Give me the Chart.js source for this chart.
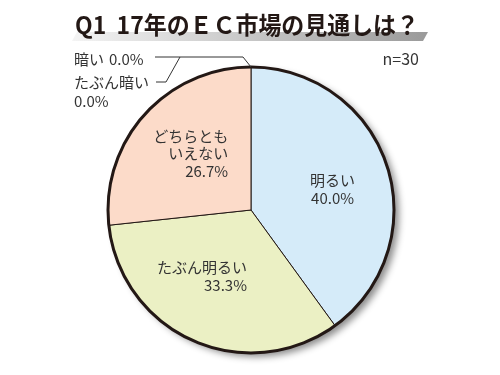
<!DOCTYPE html>
<html>
<head>
<meta charset="utf-8">
<script src="https://cdn.jsdelivr.net/npm/chart.js@4/dist/chart.umd.min.js"></script>
<style>
  body { margin: 0; background: #fff; }
  #wrap { width: 500px; height: 375px; }
</style>
</head>
<body>
<div id="wrap"><canvas id="pieChart" width="500" height="375"></canvas></div>
<script>
// data
const categories = ['明るい', 'たぶん明るい', 'どちらともいえない', 'たぶん暗い', '暗い'];
const labelLines = [['明るい'], ['たぶん明るい'], ['どちらとも', 'いえない'], ['たぶん暗い'], ['暗い']];
const percents = [40.0, 33.3, 26.7, 0.0, 0.0];
const titleText = 'Q1  17年のＥＣ市場の見通しは？';
const sampleNote = 'n=30';

const sliceColors = ['#d5ebf9', '#ebf0c4', '#fcdbc9', '#ffffff', '#ffffff'];
const FONT = '"Noto Sans CJK JP", "Noto Sans", sans-serif';
const INK = '#231815';

// label placement inside slices: radial factor + nudge
const inside = [
  { rf: 0.6, dx: 0, dy: 6, align: 'center' },
  { rf: 0.5, dx: 25, dy: 1, align: 'right' },
  { rf: 0.6, dx: 41, dy: 1, align: 'right' }
];

const fmt = v => v.toFixed(1) + '%';

const decor = {
  id: 'decor',
  beforeDatasetsDraw(chart) {
    const arc = chart.getDatasetMeta(0).data[0];
    const ctx = chart.ctx;
    ctx.save();
    ctx.shadowColor = 'rgba(0,0,0,0.45)';
    ctx.shadowBlur = 7;
    ctx.shadowOffsetX = 5;
    ctx.shadowOffsetY = 4;
    ctx.beginPath();
    ctx.arc(arc.x, arc.y, arc.outerRadius, 0, Math.PI * 2);
    ctx.fillStyle = '#fff';
    ctx.fill();
    ctx.restore();
  },
  afterDatasetsDraw(chart) {
    const arcs = chart.getDatasetMeta(0).data;
    const ctx = chart.ctx;
    const a0 = arcs[0];
    ctx.save();
    // outer rim
    ctx.beginPath();
    ctx.arc(a0.x, a0.y, a0.outerRadius, 0, Math.PI * 2);
    ctx.lineWidth = 3;
    ctx.strokeStyle = INK;
    ctx.stroke();

    ctx.fillStyle = '#333';
    ctx.font = '15px ' + FONT;
    ctx.textBaseline = 'middle';

    // labels inside slices
    inside.forEach((p, i) => {
      const a = arcs[i];
      const mid = (a.startAngle + a.endAngle) / 2;
      const cx = a.x + Math.cos(mid) * a.outerRadius * p.rf + p.dx;
      const cy = a.y + Math.sin(mid) * a.outerRadius * p.rf + p.dy;
      const lines = labelLines[i].concat([fmt(percents[i])]);
      const lh = 17.5;
      const top = cy - (lines.length - 1) * lh / 2;
      ctx.textAlign = p.align;
      lines.forEach((t, k) => ctx.fillText(t, cx, top + k * lh));
    });

    // leader labels for the zero slices
    const z = arcs[4];
    const px = z.x + Math.cos(z.startAngle) * z.outerRadius;
    const py = z.y + Math.sin(z.startAngle) * z.outerRadius;
    ctx.lineWidth = 1;
    ctx.strokeStyle = '#333';
    ctx.beginPath();
    ctx.moveTo(px, py);
    ctx.lineTo(px - 8, py - 10);
    ctx.lineTo(155, py - 10);
    ctx.moveTo(180, py - 10);
    ctx.lineTo(166, py + 15);
    ctx.lineTo(156, py + 15);
    ctx.stroke();

    ctx.textAlign = 'left';
    ctx.fillText(labelLines[4][0], 74, py - 8);
    ctx.fillText(fmt(percents[4]), 109, py - 8);
    ctx.fillText(labelLines[3][0], 74, py + 15);
    ctx.fillText(fmt(percents[3]), 74, py + 34);

    ctx.font = '16px ' + FONT;
    ctx.textAlign = 'right';
    ctx.fillText(sampleNote, 419, py - 8);
    ctx.restore();
  },
  afterDraw(chart) {
    const ctx = chart.ctx;
    ctx.save();
    // slanted grey band under the title
    const g = ctx.createLinearGradient(72, 0, 428, 0);
    g.addColorStop(0, '#f4f4f4');
    g.addColorStop(1, '#9a9a9a');
    ctx.fillStyle = g;
    ctx.beginPath();
    ctx.moveTo(77, 32);
    ctx.lineTo(428, 32);
    ctx.lineTo(423, 41);
    ctx.lineTo(72, 41);
    ctx.closePath();
    ctx.fill();

    ctx.fillStyle = INK;
    ctx.font = 'bold 24px ' + FONT;
    ctx.textAlign = 'left';
    ctx.textBaseline = 'alphabetic';
    ctx.fillText(titleText, 75, 34, 344);
    ctx.restore();
  }
};

new Chart(document.getElementById('pieChart'), {
  type: 'pie',
  data: {
    labels: categories,
    datasets: [{
      data: percents,
      backgroundColor: sliceColors,
      borderColor: INK,
      borderWidth: 1,
      radius: 143
    }]
  },
  options: {
    responsive: false,
    animation: false,
    devicePixelRatio: 1,
    layout: { padding: { top: 55, bottom: 10, left: 12, right: 10 } },
    plugins: {
      legend: { display: false },
      tooltip: { enabled: false },
      title: { display: false }
    }
  },
  plugins: [decor]
});
</script>
</body>
</html>
